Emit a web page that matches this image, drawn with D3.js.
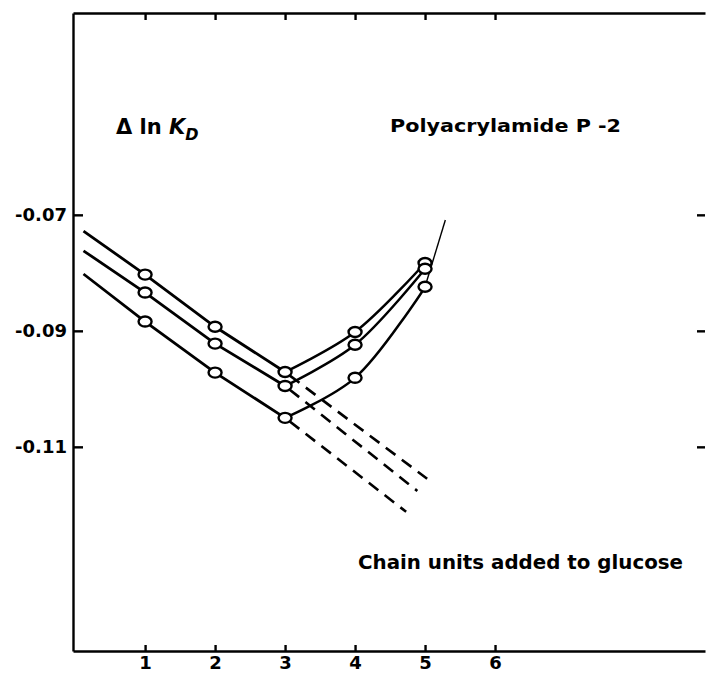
<!DOCTYPE html>
<html>
<head>
<meta charset="utf-8">
<script src="https://cdn.jsdelivr.net/npm/d3@7"></script>
<style>
  body { margin: 0; background: #fff; }
  .axis path, .axis line { stroke: #000; stroke-width: 2.4; }
</style>
</head>
<body>
<script>
// chain units (x) and delta ln KD for the three curves
var units = [1, 2, 3, 4, 5];
var upper = [-0.0803, -0.0893, -0.0971, -0.0902, -0.0783];
var middle = [-0.0834, -0.0922, -0.0995, -0.0924, -0.0793];
var lower = [-0.0884, -0.0972, -0.1050, -0.0981, -0.0824];

// where the solid falling lines start (x = 0.12)
var startX = 0.12;
var startY = [-0.0728, -0.0762, -0.0802];

// ends of the dashed extrapolations
var dashEndX = [5.03, 4.89, 4.73];
var dashEndY = [-0.1155, -0.1176, -0.1212];

// thin continuation of the lower curve past x = 5
var tailX = [5.0, 5.29];
var tailY = [-0.0824, -0.0709];

var xTicks = [1, 2, 3, 4, 5, 6];
var yTicks = [-0.07, -0.09, -0.11];
var yTickLabels = ["-0.07", "-0.09", "-0.11"];

var w = 706;
var h = 674;
var padL = 73, padR = 705, padT = 13, padB = 651;
var font = "'DejaVu Sans', Verdana, sans-serif";

var svg = d3.select("body")
  .append("svg")
  .attr("width", w)
  .attr("height", h);

var xScale = d3.scaleLinear()
  .domain([-0.03, 9])
  .range([padL, padR]);

var yScale = d3.scaleLinear()
  .domain([-0.1452, -0.0352])
  .range([padB, padT]);

var xAxis = d3.axisBottom(xScale)
  .tickValues(xTicks)
  .tickFormat(d3.format("d"))
  .tickSizeInner(-6)
  .tickSizeOuter(0)
  .tickPadding(5);

var yAxis = d3.axisLeft(yScale)
  .tickValues(yTicks)
  .tickFormat(function(d, i) { return yTickLabels[i]; })
  .tickSizeInner(-10)
  .tickSizeOuter(0)
  .tickPadding(6);

svg.append("g")
  .attr("class", "axis")
  .attr("transform", "translate(0," + padB + ")")
  .call(xAxis)
  .selectAll("text")
  .style("font-family", font)
  .style("font-weight", "bold")
  .style("font-size", "18px")
  .attr("fill", "#000");

svg.append("g")
  .attr("class", "axis")
  .attr("transform", "translate(" + padL + ",0)")
  .call(yAxis)
  .selectAll("text")
  .style("font-family", font)
  .style("font-weight", "bold")
  .style("font-size", "18px")
  .attr("fill", "#000");

svg.append("g")
  .attr("class", "axis")
  .attr("transform", "translate(0," + padT + ")")
  .call(d3.axisTop(xScale).tickValues(xTicks).tickFormat("").tickSizeInner(-7).tickSizeOuter(0));

var rAxis = svg.append("g")
  .attr("class", "axis")
  .attr("transform", "translate(" + padR + ",0)")
  .call(d3.axisRight(yScale).tickValues(yTicks).tickFormat("").tickSizeInner(-8).tickSizeOuter(0));
rAxis.select(".domain").remove();

var series = [upper, middle, lower];

var straight = d3.line()
  .x(function(d) { return xScale(d[0]); })
  .y(function(d) { return yScale(d[1]); });

var curved = d3.line()
  .x(function(d) { return xScale(d[0]); })
  .y(function(d) { return yScale(d[1]); })
  .curve(d3.curveCatmullRom.alpha(0.5));

series.forEach(function(s, k) {
  // falling solid part
  var fall = [[startX, startY[k]]];
  for (var i = 0; i < 3; i++) fall.push([units[i], s[i]]);
  svg.append("path")
    .attr("d", straight(fall))
    .attr("fill", "none")
    .attr("stroke", "#000")
    .attr("stroke-width", 2.8);

  // dashed extrapolation
  svg.append("path")
    .attr("d", straight([[units[2], s[2]], [dashEndX[k], dashEndY[k]]]))
    .attr("fill", "none")
    .attr("stroke", "#000")
    .attr("stroke-width", 2.6)
    .attr("stroke-dasharray", "12,8")
    .attr("stroke-dashoffset", -6);

  // rising curve
  var rise = [];
  for (var j = 2; j < 5; j++) rise.push([units[j], s[j]]);
  svg.append("path")
    .attr("d", curved(rise))
    .attr("fill", "none")
    .attr("stroke", "#000")
    .attr("stroke-width", 2.5);
});

svg.append("path")
  .attr("d", curved(tailX.map(function(x, i) { return [x, tailY[i]]; })))
  .attr("fill", "none")
  .attr("stroke", "#000")
  .attr("stroke-width", 1.4);

series.forEach(function(s) {
  svg.selectAll(null)
    .data(units)
    .enter().append("ellipse")
    .attr("cx", function(d) { return xScale(d); })
    .attr("cy", function(d, i) { return yScale(s[i]); })
    .attr("rx", 6.5)
    .attr("ry", 5)
    .attr("fill", "#fff")
    .attr("stroke", "#000")
    .attr("stroke-width", 2.4);
});

// labels
var label = svg.append("text")
  .attr("x", 116)
  .attr("y", 134)
  .style("font-family", font)
  .style("font-weight", "bold")
  .style("font-size", "21px");
label.append("tspan").text("\u0394 ln ");
label.append("tspan").style("font-style", "italic").text("K");
label.append("tspan").style("font-style", "italic").style("font-size", "16px").attr("dy", 6).text("D");

svg.append("text")
  .attr("x", 390)
  .attr("y", 132)
  .attr("textLength", 231)
  .attr("lengthAdjust", "spacingAndGlyphs")
  .style("font-family", font)
  .style("font-weight", "bold")
  .style("font-size", "18px")
  .text("Polyacrylamide P -2");

svg.append("text")
  .attr("x", 358)
  .attr("y", 569)
  .attr("textLength", 325)
  .attr("lengthAdjust", "spacingAndGlyphs")
  .style("font-family", font)
  .style("font-weight", "bold")
  .style("font-size", "19px")
  .text("Chain units added to glucose");
</script>
</body>
</html>
